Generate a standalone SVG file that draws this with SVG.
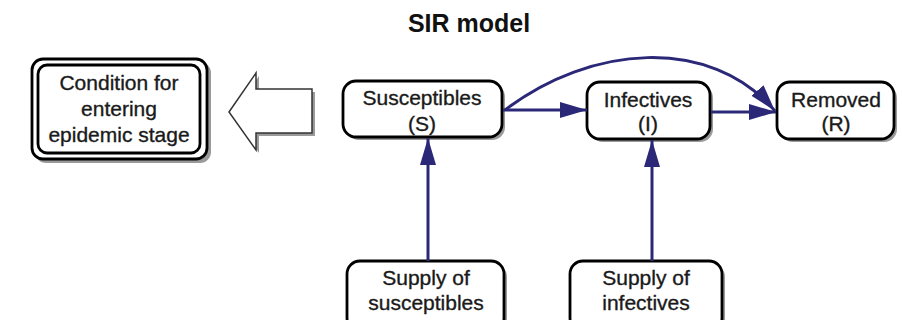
<svg xmlns="http://www.w3.org/2000/svg" width="902" height="320" viewBox="0 0 902 320">
<defs>
<style>
.box{fill:#fff;stroke:#000;stroke-width:2.8}
.sh{fill:#9a9a9a;stroke:none}
.t{font-family:"Liberation Sans",Arial,sans-serif;font-size:21px;fill:#1a1a1a;stroke:#1a1a1a;stroke-width:0.35;text-anchor:middle}
.title{font-family:"Liberation Sans",Arial,sans-serif;font-size:25px;font-weight:bold;fill:#111;text-anchor:middle}
.c{fill:none;stroke:#2b2878;stroke-width:3}
</style>
<marker id="ah" markerUnits="userSpaceOnUse" markerWidth="30" markerHeight="17" refX="27" refY="8" orient="auto">
<path d="M0,0 L27,8 L0,16 z" fill="#2b2878"/>
</marker>
</defs>
<rect width="902" height="320" fill="#fff"/>
<text class="title" x="469" y="32">SIR model</text>

<g id="condition">
<rect class="sh" x="35" y="62" width="176" height="101" rx="11"/>
<rect class="box" x="32" y="59" width="175" height="100" rx="11"/>
<rect class="box" x="38" y="65" width="162" height="88" rx="9"/>
<text class="t" x="119" y="90">Condition for</text>
<text class="t" x="119" y="116">entering</text>
<text class="t" x="119" y="142">epidemic stage</text>
</g>

<g id="block-arrow">
<polygon points="232,115 259,76 259,92 315,92 315,136 259,136 259,153" fill="#9a9a9a"/>
<polygon points="229,112 256,73 256,89 312,89 312,133 256,133 256,150" fill="#fff" stroke="#333" stroke-width="1.5"/>
</g>

<g id="susceptibles">
<rect class="sh" x="346" y="84" width="159" height="56" rx="13"/>
<rect class="box" x="343" y="81" width="159" height="56" rx="13"/>
<text class="t" x="422" y="105">Susceptibles</text>
<text class="t" x="422" y="131">(S)</text>
</g>

<g id="infectives">
<rect class="sh" x="590" y="85" width="123" height="57" rx="13"/>
<rect class="box" x="587" y="82" width="123" height="57" rx="13"/>
<text class="t" x="648" y="107">Infectives</text>
<text class="t" x="648" y="131">(I)</text>
</g>

<g id="removed">
<rect class="sh" x="780" y="85" width="117" height="57" rx="13"/>
<rect class="box" x="777" y="82" width="117" height="57" rx="13"/>
<text class="t" x="836" y="107">Removed</text>
<text class="t" x="836" y="131">(R)</text>
</g>

<g id="supply-susceptibles">
<rect class="sh" x="350" y="264" width="157" height="70" rx="13"/>
<rect class="box" x="347" y="261" width="157" height="70" rx="13"/>
<text class="t" x="426" y="285">Supply of</text>
<text class="t" x="426" y="310">susceptibles</text>
</g>

<g id="supply-infectives">
<rect class="sh" x="573" y="264" width="152" height="70" rx="13"/>
<rect class="box" x="570" y="261" width="152" height="70" rx="13"/>
<text class="t" x="646" y="285">Supply of</text>
<text class="t" x="646" y="310">infectives</text>
</g>

<g id="connectors">
<line class="c" x1="503" y1="110" x2="587" y2="110" marker-end="url(#ah)"/>
<line class="c" x1="711" y1="112" x2="776" y2="112" marker-end="url(#ah)"/>
<path class="c" d="M505,110 C590,45 710,35 775,111" marker-end="url(#ah)"/>
<line class="c" x1="428" y1="261" x2="428" y2="138" marker-end="url(#ah)"/>
<line class="c" x1="652" y1="261" x2="652" y2="140" marker-end="url(#ah)"/>
</g>
</svg>
